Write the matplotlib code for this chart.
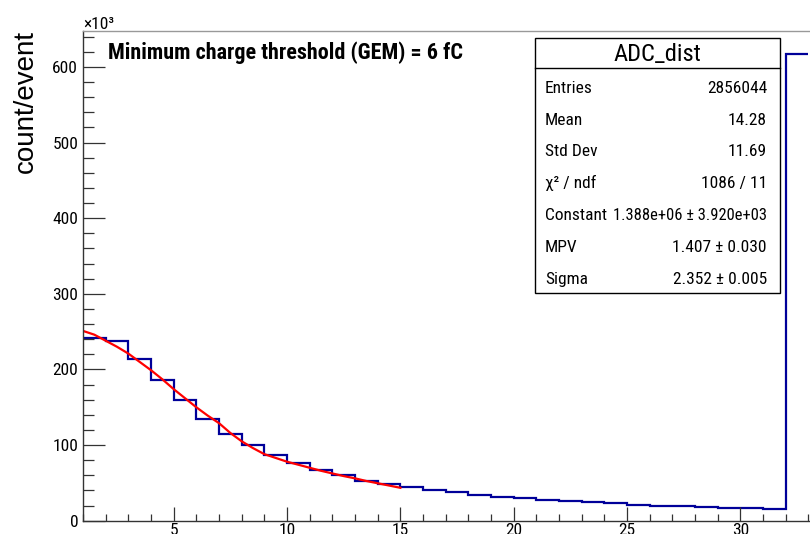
import matplotlib
matplotlib.use("Agg")
import matplotlib.pyplot as plt
from matplotlib import font_manager
from matplotlib.ticker import MultipleLocator, FuncFormatter
import numpy as np

# ---------------- data ----------------
bin_edges = list(range(1, 34))  # 1..33
counts_k = [242, 237, 214, 186, 159, 135, 115, 99.5, 87, 76, 67, 60, 53, 49,
            44, 41, 38, 34, 32, 30, 28, 26, 25, 23, 21, 20, 19, 18, 17, 16.5,
            15.5, 617]
fit_x = [1, 1.5, 2, 2.5, 3, 3.5, 4, 4.5, 5, 5.5, 6, 6.5, 7, 7.5, 8, 8.5, 9,
         9.5, 10, 10.5, 11, 11.5, 12, 12.5, 13, 13.5, 14, 14.5, 15]
fit_y_k = [251, 246, 238, 230, 221, 210, 199, 187, 174, 162, 150, 139, 129,
           116, 105, 96, 88, 83, 78, 74, 70, 66, 62.5, 59, 56, 52.5, 49.5,
           46.5, 43.5]
title_text = "Minimum charge threshold (GEM) = 6 fC"
stats_title = "ADC_dist"
stats_labels = ["Entries", "Mean", "Std Dev", "χ² / ndf", "Constant", "MPV", "Sigma"]
stats_values = ["2856044", "14.28", "11.69", "1086 / 11",
                "1.388e+06 ± 3.920e+03", "1.407 ± 0.030", "2.352 ± 0.005"]
y_label = "count/event"

# ---------------- fonts ----------------
avail = {f.name for f in font_manager.fontManager.ttflist}
prefs = ['Nimbus Sans Narrow', 'Liberation Sans Narrow', 'Arial Narrow',
         'Roboto Condensed', 'PT Sans Narrow', 'Archivo Narrow',
         'Fira Sans Condensed', 'IBM Plex Sans Condensed', 'Liberation Sans']
narrow = next(p for p in prefs if p in avail or p == 'Liberation Sans')
FAM = [narrow, 'Liberation Sans', 'DejaVu Sans']
plt.rcParams['font.family'] = FAM

W, H = 810, 534
fig = plt.figure(figsize=(W / 100, H / 100), dpi=100)
renderer = fig.canvas.get_renderer()

def fx(px):
    return px / W

def fy(py):
    return 1 - py / H

def fit_width(t, target_px):
    bb = t.get_window_extent(renderer=renderer)
    t.set_fontsize(t.get_fontsize() * target_px / bb.width)

ax_left, ax_bottom, ax_top = 83, 520.7, 31
xmin, xmax = 1, 34
px_per_x = 22.67
ax_right = ax_left + (xmax - xmin) * px_per_x
ax = fig.add_axes([fx(ax_left), fy(ax_bottom), (ax_right - ax_left) / W,
                   (ax_bottom - ax_top) / H])

scale = 1000.0
counts = np.array(counts_k) * scale
fit_y = np.array(fit_y_k) * scale

ax.stairs(counts, bin_edges, baseline=None, color='#000099', linewidth=1.6)
ax.plot(fit_x, fit_y, color='#ff0000', linewidth=1.6)

ax.set_xlim(xmin, xmax)
ax.set_ylim(0, 647.6 * scale)

ax.xaxis.set_major_locator(MultipleLocator(5))
ax.xaxis.set_minor_locator(MultipleLocator(1))
ax.yaxis.set_major_locator(MultipleLocator(100 * scale))
ax.yaxis.set_minor_locator(MultipleLocator(20 * scale))
ax.yaxis.set_major_formatter(FuncFormatter(lambda v, p: f"{v / scale:.0f}"))

ax.tick_params(axis='both', which='both', direction='in', colors='#333333',
               labelcolor='black', labelsize=12.5, width=0.9)
ax.tick_params(axis='y', which='major', length=15.8, pad=3.5)
ax.tick_params(axis='y', which='minor', length=7.9)
ax.tick_params(axis='x', which='major', length=10, pad=2)
ax.tick_params(axis='x', which='minor', length=5)
ax.tick_params(top=False, right=False, which='both')

for s in ['left', 'bottom']:
    ax.spines[s].set_color('#333333')
    ax.spines[s].set_linewidth(1.0)
ax.spines['top'].set_color('#999999')
ax.spines['top'].set_linewidth(1.0)
ax.spines['right'].set_visible(False)

# y label (top aligned, rotated)
fig.text(fx(26), fy(30), y_label, rotation=90, ha='center', va='top',
         fontsize=20, family=['Liberation Sans', 'DejaVu Sans'])

# x10^3
fig.text(fx(83), fy(29), "×10³", ha='left', va='baseline', fontsize=12.5)

# title text
t = fig.text(fx(108), fy(59.5), title_text, ha='left', va='baseline',
             fontsize=15, fontweight='bold')
fit_width(t, 355)

# stats box
bl, br, bt, bb, sep = 534.7, 780, 37.7, 293.3, 68.3
box = plt.Rectangle((fx(bl), fy(bb)), (br - bl) / W, (bb - bt) / H,
                    transform=fig.transFigure, facecolor='white',
                    edgecolor='black', linewidth=1.0, zorder=5)
fig.add_artist(box)
fig.add_artist(plt.Line2D([fx(bl), fx(br)], [fy(sep), fy(sep)],
                          transform=fig.transFigure, color='black',
                          linewidth=1.0, zorder=6))
st = fig.text(fx(657), fy(61), stats_title, ha='center', va='baseline',
              fontsize=19, zorder=7)
fit_width(st, 88)
for i, (lab, val) in enumerate(zip(stats_labels, stats_values)):
    yb = 92.7 + i * 31.9
    fig.text(fx(545), fy(yb), lab, ha='left', va='baseline', fontsize=12.5, zorder=7)
    tv = fig.text(fx(767), fy(yb), val, ha='right', va='baseline', fontsize=12.5, zorder=7)
    if val.startswith("1.388"):
        bbv = tv.get_window_extent(renderer=renderer)
        if bbv.width > 767 - 612:
            fit_width(tv, 767 - 612)

fig.savefig("out.png", dpi=100)
